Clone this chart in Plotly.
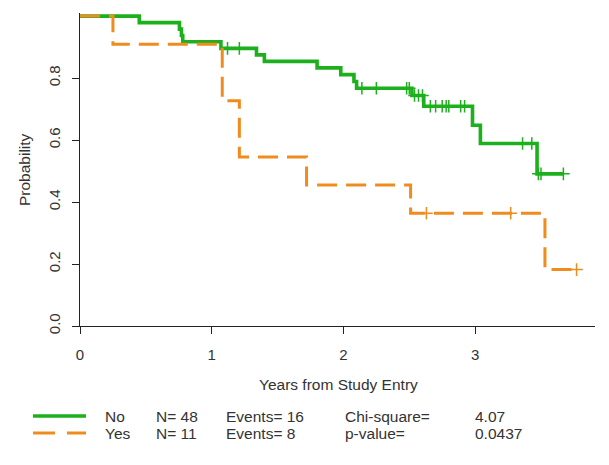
import plotly.graph_objects as go

# ---------------- data ----------------
# Group "No" (green, solid)
no_event_times = [0.45, 0.755, 0.77, 0.78, 1.07, 1.34, 1.40, 1.80, 1.98, 2.08, 2.10,
                  2.52, 2.61, 2.98, 3.04, 3.47]
no_event_surv = [0.979, 0.958, 0.9375, 0.917, 0.896, 0.875, 0.854, 0.833, 0.811, 0.789,
                 0.767, 0.744, 0.709, 0.648, 0.589, 0.491]
no_end_time = 3.67
no_censor_times = [1.12, 1.21, 2.14, 2.25, 2.48, 2.50, 2.54, 2.57, 2.60, 2.66, 2.70,
                   2.75, 2.78, 2.80, 2.89, 2.92, 3.36, 3.43, 3.48, 3.50, 3.67]
no_censor_surv = [0.896, 0.896, 0.767, 0.767, 0.767, 0.767, 0.744, 0.744, 0.744, 0.709,
                  0.709, 0.709, 0.709, 0.709, 0.709, 0.709, 0.589, 0.589, 0.491, 0.491,
                  0.491]

# Group "Yes" (orange, dashed)
yes_event_times = [0.25, 1.08, 1.21, 1.72, 2.51, 3.53]
yes_event_surv = [0.909, 0.727, 0.545, 0.455, 0.364, 0.182]
yes_end_time = 3.77
yes_censor_times = [2.63, 3.27, 3.77]
yes_censor_surv = [0.364, 0.364, 0.182]

# Legend / statistics text
group_labels = ["No", "Yes"]
group_n = [48, 11]
group_events = [16, 8]
stat_labels = ["Chi-square=", "p-value="]
stat_values = ["4.07", "0.0437"]

x_ticks = [0, 1, 2, 3]
y_ticks = [0.0, 0.2, 0.4, 0.6, 0.8]
y_tick_text = ["0.0", "0.2", "0.4", "0.6", "0.8"]

GREEN = "#1DB01D"
ORANGE = "#F08C1E"
TXT = "#333333"
FONT = "Liberation Sans, Arial, sans-serif"

# ---------------- figure ----------------
W, H = 609, 465
L, R, T, B = 80, 14, 13, 139
PW, PH = W - L - R, H - T - B


def px2paper_x(px):
    return (px - L) / PW


def px2paper_y(py):
    return (H - B - py) / PH


def step_xy(times, surv, end):
    xs = [0.0] + list(times) + [end]
    ys = [1.0] + list(surv) + [surv[-1]]
    return xs, ys


fig = go.Figure()

gx, gy = step_xy(no_event_times, no_event_surv, no_end_time)
fig.add_trace(go.Scatter(x=gx, y=gy, mode="lines", line=dict(color=GREEN, width=3.6, shape="hv"),
                         showlegend=False, hoverinfo="skip"))
fig.add_trace(go.Scatter(x=no_censor_times, y=no_censor_surv, mode="markers",
                         marker=dict(symbol="cross-thin", size=9, line=dict(color=GREEN, width=1.5)),
                         showlegend=False, hoverinfo="skip", cliponaxis=False))

ox, oy = step_xy(yes_event_times, yes_event_surv, yes_end_time)
fig.add_trace(go.Scatter(x=ox, y=oy, mode="lines",
                         line=dict(color=ORANGE, width=3, shape="hv", dash="20px,9px"),
                         showlegend=False, hoverinfo="skip"))
fig.add_trace(go.Scatter(x=yes_censor_times, y=yes_censor_surv, mode="markers",
                         marker=dict(symbol="cross-thin", size=9, line=dict(color=ORANGE, width=1.5)),
                         showlegend=False, hoverinfo="skip", cliponaxis=False))

annotations = []
shapes = []

# axis titles
annotations.append(dict(text="Years from Study Entry", xref="paper", yref="paper",
                        x=px2paper_x(338), y=px2paper_y(384), xanchor="center", yanchor="middle",
                        showarrow=False, font=dict(family=FONT, size=15.5, color=TXT)))
annotations.append(dict(text="Probability", xref="paper", yref="paper",
                        x=px2paper_x(24), y=px2paper_y(170), xanchor="center", yanchor="middle",
                        textangle=-90, showarrow=False, font=dict(family=FONT, size=15.5, color=TXT)))

# legend block
row_y = [416, 433]
line_colors = [GREEN, ORANGE]
line_dash = ["solid", "22px,12px"]
line_width = [3.6, 3]
col_x = [103, 154, 224, 343, 473]
for i in range(2):
    shapes.append(dict(type="line", xref="paper", yref="paper",
                       x0=px2paper_x(33), x1=px2paper_x(86),
                       y0=px2paper_y(row_y[i]), y1=px2paper_y(row_y[i]),
                       line=dict(color=line_colors[i], width=line_width[i], dash=line_dash[i])))
    texts = [group_labels[i], f"N= {group_n[i]}", f"Events= {group_events[i]}",
             stat_labels[i], stat_values[i]]
    for cx, t in zip(col_x, texts):
        annotations.append(dict(text=t, xref="paper", yref="paper",
                                x=px2paper_x(cx), y=px2paper_y(row_y[i]),
                                xanchor="left", yanchor="middle", showarrow=False,
                                font=dict(family=FONT, size=15.5, color=TXT)))

fig.update_layout(
    width=W, height=H,
    margin=dict(l=L, r=R, t=T, b=B, pad=0),
    paper_bgcolor="white", plot_bgcolor="white",
    font=dict(family=FONT, size=15, color=TXT),
    annotations=annotations, shapes=shapes,
    showlegend=False,
)
fig.update_xaxes(range=[0, 3.91], tickvals=x_ticks, ticktext=[str(v) for v in x_ticks],
                 showgrid=False, zeroline=False, showline=True, linecolor="#222222", linewidth=1,
                 ticks="outside", ticklen=7, tickwidth=1, tickcolor="#222222",
                 tickfont=dict(family=FONT, size=15, color=TXT), ticklabelstandoff=8)
fig.update_yaxes(range=[0, 1.01], tickvals=y_ticks, ticktext=y_tick_text,
                 showgrid=False, zeroline=False, showline=True, linecolor="#222222", linewidth=1,
                 ticks="outside", ticklen=7, tickwidth=1, tickcolor="#222222", tickangle=-90,
                 tickfont=dict(family=FONT, size=15, color=TXT), ticklabelstandoff=6)

fig.write_html("out.html",
               config={"displayModeBar": False},
               post_script="document.body.style.margin='0px';document.body.style.overflow='hidden';")
